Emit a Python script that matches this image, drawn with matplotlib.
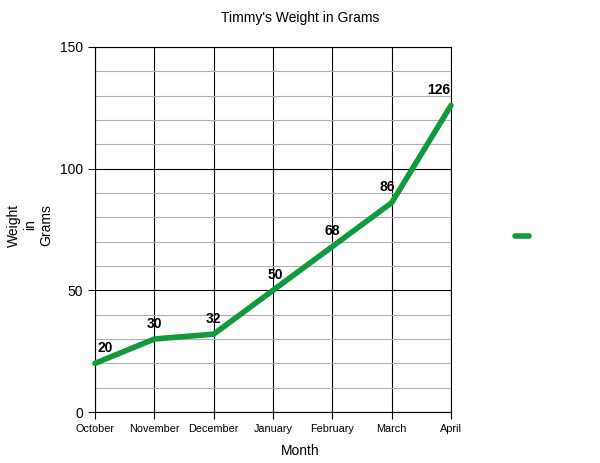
import matplotlib
matplotlib.use("Agg")
import matplotlib.pyplot as plt
from matplotlib.ticker import MultipleLocator

months = ["October", "November", "December", "January", "February", "March", "April"]
weights = [20, 30, 32, 50, 68, 86, 126]

# label offsets in points (dx)
label_dx = [7, 0, 0, 2, 0, -3, -9]

plt.rcParams['font.family'] = ['Liberation Sans', 'DejaVu Sans']

fig = plt.figure(figsize=(6, 4.63), dpi=100)
ax = fig.add_axes([95/600, 51/463, 356/600, 365/463])

x = list(range(len(months)))
line, = ax.plot(x, weights, color="#109a3c", linewidth=4, solid_capstyle="round",
                solid_joinstyle="round", zorder=3, clip_on=False)

for xi, w, dx in zip(x, weights, label_dx):
    ax.annotate(str(w), (xi, w), xytext=(dx, 6), textcoords="offset points",
                ha="center", va="bottom", fontsize=10, fontweight="bold")

ax.set_xlim(0, len(months) - 1)
ax.set_ylim(0, 150)
ax.set_xticks(x)
ax.set_xticklabels(months, fontsize=7.8)
ax.yaxis.set_major_locator(MultipleLocator(50))
ax.yaxis.set_minor_locator(MultipleLocator(10))
ax.tick_params(axis='y', labelsize=10, length=5)
ax.tick_params(axis='y', which='minor', length=0)
ax.tick_params(axis='x', length=5, pad=4)

ax.grid(True, which='minor', axis='y', color='#b0b0b0', linewidth=0.8)
ax.grid(True, which='major', axis='y', color='black', linewidth=0.8)
ax.grid(True, which='major', axis='x', color='black', linewidth=0.8)
ax.set_axisbelow(True)
for s in ax.spines.values():
    s.set_linewidth(0.8)

ax.set_xlabel("Month", fontsize=10)
ax.xaxis.set_label_coords((300 - 95) / 356, -32 / 365)
fig.text(30/600, 1 - 225/463, "Weight\nin\nGrams", rotation=90, ha="center", va="center",
         fontsize=10, multialignment="center", linespacing=1.2)
fig.text(0.5, 1 - 18/463, "Timmy's Weight in Grams",
         ha="center", va="center", fontsize=10)

ax.legend([line], [""], loc="center left", bbox_to_anchor=(1.145, 0.48), frameon=False,
          handlelength=1.0, handletextpad=0)

fig.savefig("out.png", dpi=100)
